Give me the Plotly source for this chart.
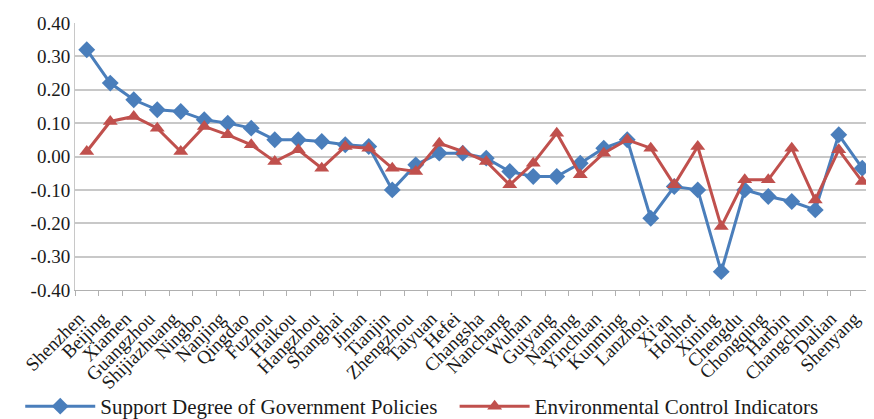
import plotly.graph_objects as go

cities = ["Shenzhen", "Beijing", "Xiamen", "Guangzhou", "Shijiazhuang", "Ningbo", "Nanjing",
          "Qingdao", "Fuzhou", "Haikou", "Hangzhou", "Shanghai", "Jinan", "Tianjin", "Zhengzhou",
          "Taiyuan", "Hefei", "Changsha", "Nanchang", "Wuhan", "Guiyang", "Nanning", "Yinchuan",
          "Kunming", "Lanzhou", "Xi'an", "Hohhot", "Xining", "Chengdu", "Chongqing", "Harbin",
          "Changchun", "Dalian", "Shenyang"]

support = [0.32, 0.22, 0.17, 0.14, 0.135, 0.11, 0.10, 0.085, 0.05, 0.05, 0.045, 0.035, 0.03,
           -0.10, -0.025, 0.01, 0.01, -0.005, -0.045, -0.06, -0.06, -0.02, 0.025, 0.05,
           -0.185, -0.09, -0.10, -0.345, -0.10, -0.12, -0.135, -0.16, 0.065, -0.035]

environment = [0.015, 0.105, 0.12, 0.085, 0.015, 0.09, 0.065, 0.035, -0.015, 0.02, -0.035, 0.03,
               0.025, -0.035, -0.045, 0.04, 0.015, -0.015, -0.085, -0.02, 0.07, -0.055, 0.01,
               0.05, 0.025, -0.085, 0.03, -0.21, -0.07, -0.07, 0.025, -0.13, 0.02, -0.075]

y_ticks = [-0.4, -0.3, -0.2, -0.1, 0.0, 0.1, 0.2, 0.3, 0.4]
y_labels = ["-0.40", "-0.30", "-0.20", "-0.10", "0.00", "0.10", "0.20", "0.30", "0.40"]

fig = go.Figure()
fig.add_trace(go.Scatter(
    x=cities, y=support, name="Support Degree of Government Policies",
    mode="lines+markers", legend="legend",
    line=dict(color="#4A7EBB", width=3),
    marker=dict(symbol="diamond", size=13, color="#4A7EBB"),
))
fig.add_trace(go.Scatter(
    x=cities, y=environment, name="Environmental Control Indicators",
    mode="lines+markers", legend="legend2",
    line=dict(color="#C0504D", width=3),
    marker=dict(symbol="triangle-up", size=13, color="#C0504D"),
))

legend_common = dict(
    orientation="h", xref="container", yref="container",
    y=0.0, xanchor="left", yanchor="bottom",
    font=dict(size=21, family="Liberation Serif", color="#1a1a1a"),
    itemwidth=70, bgcolor="rgba(0,0,0,0)",
)

fig.update_layout(
    width=874, height=419,
    margin=dict(l=67, r=8, t=15, b=137),
    paper_bgcolor="white", plot_bgcolor="white",
    font=dict(family="Liberation Serif", color="#1a1a1a"),
    showlegend=True,
    legend=dict(x=0.014, **legend_common),
    legend2=dict(x=0.511, **legend_common),
    xaxis=dict(
        type="category", range=[-0.5, len(cities) - 0.5],
        tickangle=-45, tickfont=dict(size=19, family="Liberation Serif", color="#1a1a1a"),
        ticklabelshift=-8, ticklabelstandoff=9,
        showgrid=False, showline=True, linecolor="#b0b0b0", linewidth=1,
        ticks="outside", ticklen=5, tickcolor="#b0b0b0", tickson="boundaries",
        automargin=False,
    ),
    yaxis=dict(
        range=[-0.4, 0.4], tickvals=y_ticks, ticktext=y_labels,
        tickfont=dict(size=19, family="Liberation Serif", color="#1a1a1a"),
        showgrid=True, gridcolor="#c8c8c8", gridwidth=1.5,
        zeroline=False, showline=True, linecolor="#c8c8c8", linewidth=1,
        ticks="", automargin=False,
    ),
)

fig.write_html("out.html")
